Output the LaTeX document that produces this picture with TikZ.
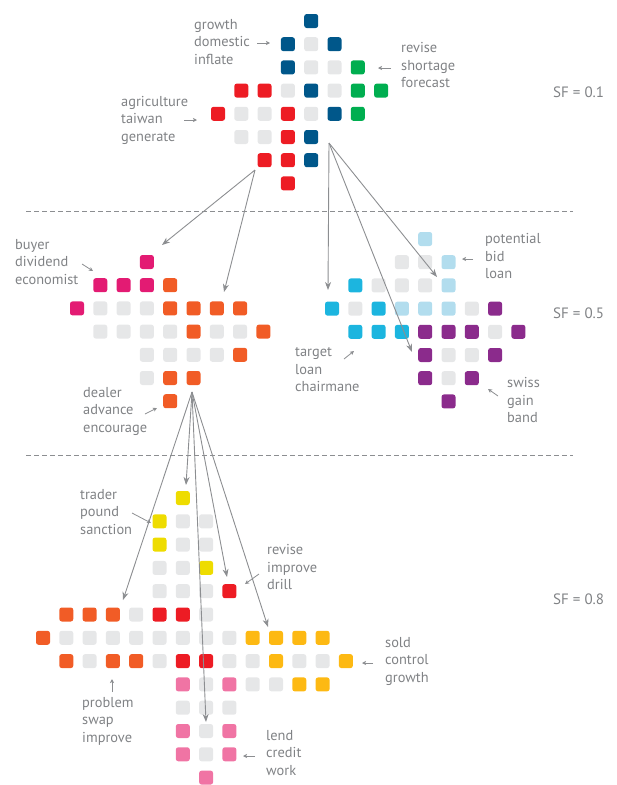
\documentclass[tikz,border=0pt]{standalone}
\usepackage{fontspec}
\setmainfont{PT Sans}
\usetikzlibrary{arrows.meta}
\definecolor{cB}{RGB}{0,87,138}
\definecolor{cG}{RGB}{230,231,232}
\definecolor{cR}{RGB}{237,28,36}
\definecolor{cGr}{RGB}{0,174,80}
\definecolor{cP}{RGB}{227,27,115}
\definecolor{cO}{RGB}{241,92,38}
\definecolor{cC}{RGB}{28,181,223}
\definecolor{cL}{RGB}{178,221,238}
\definecolor{cPu}{RGB}{139,43,140}
\definecolor{cY}{RGB}{238,220,0}
\definecolor{cA}{RGB}{253,185,19}
\definecolor{cPk}{RGB}{240,116,164}
\definecolor{txt}{RGB}{128,130,133}
\definecolor{arr}{RGB}{140,142,145}
\begin{document}
\begin{tikzpicture}[x=1pt,y=-1pt,
  cell/.style={rectangle,rounded corners=2.5pt,minimum size=14pt,inner sep=0pt,draw=none},
  lbl/.style={font=\fontsize{14.4}{17.5}\selectfont,text=txt,align=left,anchor=west,inner sep=0pt},
  sflbl/.style={font=\fontsize{15}{17}\selectfont,text=txt,anchor=west,inner sep=0pt},
  bigarrow/.style={draw=arr,line width=0.9pt,-{Stealth[length=8pt,width=6pt,inset=2.5pt]}},
  smallarrow/.style={draw=arr,line width=0.8pt,-{Stealth[length=4pt,width=4pt,inset=1pt]}},
  dashline/.style={draw=arr,line width=0.8pt,dash pattern=on 5pt off 3pt}]
\useasboundingbox (0,0) rectangle (617,785);

% ---------- section 1 ----------
\foreach \c/\r/\k in {4/0/cB,
  3/1/cB,4/1/cG,5/1/cB,
  3/2/cB,4/2/cG,5/2/cG,6/2/cGr,
  1/3/cR,2/3/cR,3/3/cG,4/3/cB,5/3/cG,6/3/cGr,7/3/cGr,
  0/4/cR,1/4/cG,2/4/cG,3/4/cR,4/4/cG,5/4/cB,6/4/cGr,
  1/5/cG,2/5/cG,3/5/cR,4/5/cB,
  2/6/cR,3/6/cR,4/6/cB,
  3/7/cR}
  \node[cell,fill=\k] (a\c-\r) at ({218+\c*23.3},{21+\r*23.2}) {};

% ---------- section 2 left ----------
\foreach \c/\r/\k in {3/0/cP,
  1/1/cP,2/1/cP,3/1/cP,4/1/cO,
  0/2/cP,1/2/cG,2/2/cG,3/2/cG,4/2/cO,5/2/cO,6/2/cO,7/2/cO,
  1/3/cG,2/3/cG,3/3/cG,4/3/cG,5/3/cO,6/3/cG,7/3/cG,8/3/cO,
  3/4/cG,4/4/cG,5/4/cG,6/4/cG,7/4/cO,
  3/5/cG,4/5/cO,5/5/cO,
  4/6/cO}
  \node[cell,fill=\k] (b\c-\r) at ({77+\c*23.3},{262+\r*23.2}) {};

% ---------- section 2 right ----------
\foreach \c/\r/\k in {4/0/cL,
  3/1/cG,4/1/cG,5/1/cL,
  1/2/cC,2/2/cG,3/2/cG,4/2/cG,5/2/cL,
  0/3/cC,1/3/cG,2/3/cC,3/3/cL,4/3/cL,5/3/cL,6/3/cG,7/3/cPu,
  1/4/cC,2/4/cC,3/4/cC,4/4/cPu,5/4/cPu,6/4/cPu,7/4/cG,8/4/cPu,
  4/5/cPu,5/5/cG,6/5/cG,7/5/cPu,
  4/6/cPu,5/6/cG,6/6/cPu,
  5/7/cPu}
  \node[cell,fill=\k] (c\c-\r) at ({332+\c*23.3},{239+\r*23.2}) {};

% ---------- section 3 ----------
\foreach \c/\r/\k in {6/0/cY,
  5/1/cY,6/1/cG,7/1/cG,
  5/2/cY,6/2/cG,7/2/cG,
  5/3/cG,6/3/cG,7/3/cY,
  5/4/cG,6/4/cG,7/4/cG,8/4/cR,
  1/5/cO,2/5/cO,3/5/cO,4/5/cG,5/5/cR,6/5/cR,7/5/cG,
  0/6/cO,1/6/cG,2/6/cG,3/6/cG,4/6/cG,5/6/cG,6/6/cG,7/6/cG,8/6/cG,9/6/cA,10/6/cA,11/6/cA,12/6/cA,
  1/7/cO,2/7/cG,3/7/cO,4/7/cO,5/7/cG,6/7/cR,7/7/cR,8/7/cG,9/7/cG,10/7/cA,11/7/cG,12/7/cG,13/7/cA,
  6/8/cPk,7/8/cG,8/8/cPk,9/8/cG,10/8/cG,11/8/cA,12/8/cA,
  6/9/cG,7/9/cG,8/9/cG,
  6/10/cPk,7/10/cG,8/10/cPk,
  6/11/cPk,7/11/cG,8/11/cPk,
  7/12/cPk}
  \node[cell,fill=\k] (d\c-\r) at ({43+\c*23.3},{498+\r*23.3}) {};

% ---------- dashed separators ----------
\coordinate (s1a) at (26,211); \coordinate (s1b) at (573,211);
\coordinate (s2a) at (26,455); \coordinate (s2b) at (573,455);
\draw[dashline] (s1a) -- (s1b);
\draw[dashline] (s2a) -- (s2b);

% ---------- SF labels ----------
\node[sflbl] (sf1) at (553,92) {SF = 0.1};
\node[sflbl] (sf2) at (553,313) {SF = 0.5};
\node[sflbl] (sf3) at (553,599) {SF = 0.8};

% ---------- labels ----------
\node[lbl] (l1) at (194,42) {growth\\domestic\\inflate};
\node[lbl] (l2) at (401,65) {revise\\shortage\\forecast};
\node[lbl] (l3) at (121,120) {agriculture\\taiwan\\generate};
\node[lbl] (l4) at (15,262) {buyer\\dividend\\economist};
\node[lbl] (l5) at (83,411) {dealer\\advance\\encourage};
\node[lbl] (l6) at (485,256) {potential\\bid\\loan};
\node[lbl] (l7) at (295,370) {target\\loan\\chairmane};
\node[lbl] (l8) at (507,400) {swiss\\gain\\band};
\node[lbl] (l9) at (80,512) {trader\\pound\\sanction};
\node[lbl] (l10) at (267,567) {revise\\improve\\drill};
\node[lbl] (l11) at (82,721) {problem\\swap\\improve};
\node[lbl] (l12) at (266,753) {lend\\credit\\work};
\node[lbl] (l13) at (385,661) {sold\\control\\growth};

% ---------- small label arrows ----------
\coordinate (p1a) at (257,43);  \coordinate (p1b) at (270,43);
\coordinate (p2a) at (391,68);  \coordinate (p2b) at (378,68);
\coordinate (p3a) at (184,120); \coordinate (p3b) at (197,120);
\coordinate (p4a) at (82,264);  \coordinate (p4b) at (93,271);
\coordinate (p5a) at (145,414); \coordinate (p5b) at (157,408);
\coordinate (p6a) at (473,259); \coordinate (p6b) at (462,259);
\coordinate (p7a) at (344,359); \coordinate (p7b) at (354,351);
\coordinate (p8a) at (498,396); \coordinate (p8b) at (488,389);
\coordinate (p9a) at (132,513); \coordinate (p9b) at (151,523);
\coordinate (p10a) at (259,574); \coordinate (p10b) at (245,584);
\coordinate (p11a) at (112,692); \coordinate (p11b) at (112,679);
\coordinate (p12a) at (255,756); \coordinate (p12b) at (243,756);
\coordinate (p13a) at (373,663); \coordinate (p13b) at (362,663);
\foreach \i in {1,...,13} \draw[smallarrow] (p\i a) -- (p\i b);

% ---------- big arrows ----------
\coordinate (o1) at (255,170);
\coordinate (o2) at (329,143);
\coordinate (o3) at (192,392);
\coordinate (t1) at (162,245);
\coordinate (t2) at (224,292);
\coordinate (t3) at (328,290);
\coordinate (t4) at (437,277);
\coordinate (t5) at (412,352);
\coordinate (t6) at (123,600);
\coordinate (t7) at (186,485);
\coordinate (t8) at (206,722);
\coordinate (t9) at (227,577);
\coordinate (t10) at (268,627);
\draw[bigarrow] (o1) -- (t1);
\draw[bigarrow] (o1) -- (t2);
\draw[bigarrow] (o2) -- (t3);
\draw[bigarrow] (o2) -- (t4);
\draw[bigarrow] (o2) -- (t5);
\draw[bigarrow] (o3) -- (t6);
\draw[bigarrow] (o3) -- (t7);
\draw[bigarrow] (o3) -- (t8);
\draw[bigarrow] (o3) -- (t9);
\draw[bigarrow] (o3) -- (t10);
\end{tikzpicture}
\end{document}
